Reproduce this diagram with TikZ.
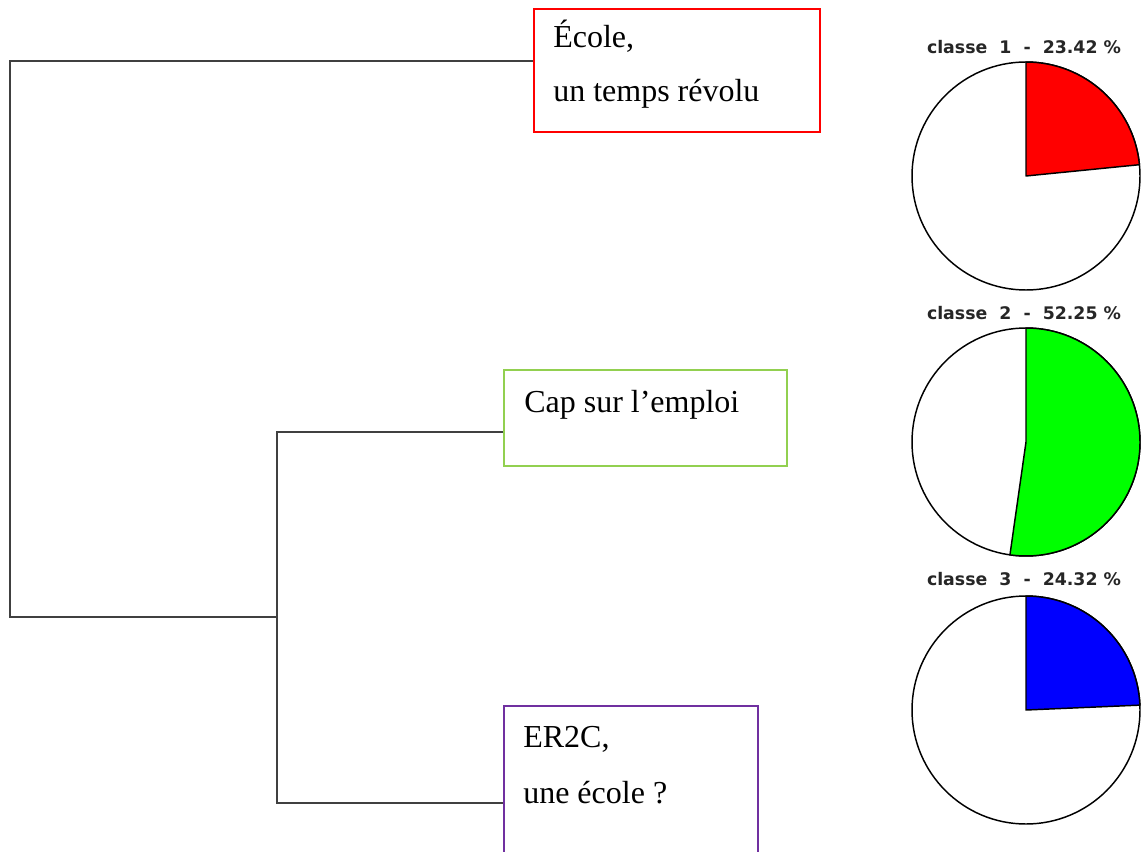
\documentclass[tikz,border=0pt]{standalone}
\usepackage{fontspec}
\setmainfont{Liberation Serif}
\newfontfamily\piefont{DejaVu Sans}
\definecolor{vertcadre}{HTML}{92D050}
\definecolor{violetcadre}{HTML}{7030A0}
\definecolor{vertpie}{HTML}{00FF00}
\begin{document}
\begin{tikzpicture}[x=0.75pt, y=-0.75pt]
  \tikzstyle{cadre} = [draw, line width=1.2pt, anchor=north west, inner sep=0pt]
  \tikzstyle{txt} = [anchor=base west, inner sep=0pt, font=\fontsize{24pt}{28pt}\selectfont]
  \tikzstyle{branche} = [draw=black!75, line width=1.5pt]
  \tikzstyle{tranche} = [draw=black, line width=1.1pt, line join=round]
  \tikzstyle{classe} = [inner sep=0pt, font=\piefont\bfseries\fontsize{13pt}{15pt}\selectfont, text=black!85]
  \useasboundingbox (0,0) rectangle (1142,852);
  \clip (0,0) rectangle (1142,852);
  % cadres des classes
  \node[cadre, draw=red, minimum width=214.5pt, minimum height=92.25pt] (box1) at (533,8) {};
  \node[cadre, draw=vertcadre, minimum width=212.25pt, minimum height=72pt] (box2) at (503,369) {};
  \node[cadre, draw=violetcadre, minimum width=190.5pt, minimum height=120pt] (box3) at (503,705) {};
  \node[txt] (t1a) at (553,48) {École,};
  \node[txt] (t1b) at (553,102) {un temps révolu};
  \node[txt] (t2) at (524,412) {Cap sur l’emploi};
  \node[txt] (t3a) at (523,747) {ER2C,};
  \node[txt] (t3b) at (523,803) {une école ?};
  % dendrogramme
  \coordinate (k1) at (10,617);
  \coordinate (k2) at (277,617);
  \draw[branche] (box1.west |- 0,61) -| (k1) -- (k2);
  \draw[branche] (box2.west |- 0,432) -| (k2) |- (box3.west |- 0,803);
  % camemberts
  \coordinate (p1) at (1026,176);
  \coordinate (p2) at (1026,442);
  \coordinate (p3) at (1026,710);
  \node[classe] (c1) at (1024,47) {classe~~1~~-~~23.42~\%};
  \node[classe] (c2) at (1024,313) {classe~~2~~-~~52.25~\%};
  \node[classe] (c3) at (1024,579) {classe~~3~~-~~24.32~\%};
  \draw[tranche, fill=white] (p1) circle[radius=85.5pt];
  \draw[tranche, fill=red] (p1) -- ++(90:85.5pt) arc[start angle=90, end angle=5.69, radius=85.5pt] -- cycle;
  \draw[tranche, fill=white] (p2) circle[radius=85.5pt];
  \draw[tranche, fill=vertpie] (p2) -- ++(90:85.5pt) arc[start angle=90, end angle=-98.1, radius=85.5pt] -- cycle;
  \draw[tranche, fill=white] (p3) circle[radius=85.5pt];
  \draw[tranche, fill=blue] (p3) -- ++(90:85.5pt) arc[start angle=90, end angle=2.45, radius=85.5pt] -- cycle;
\end{tikzpicture}
\end{document}
